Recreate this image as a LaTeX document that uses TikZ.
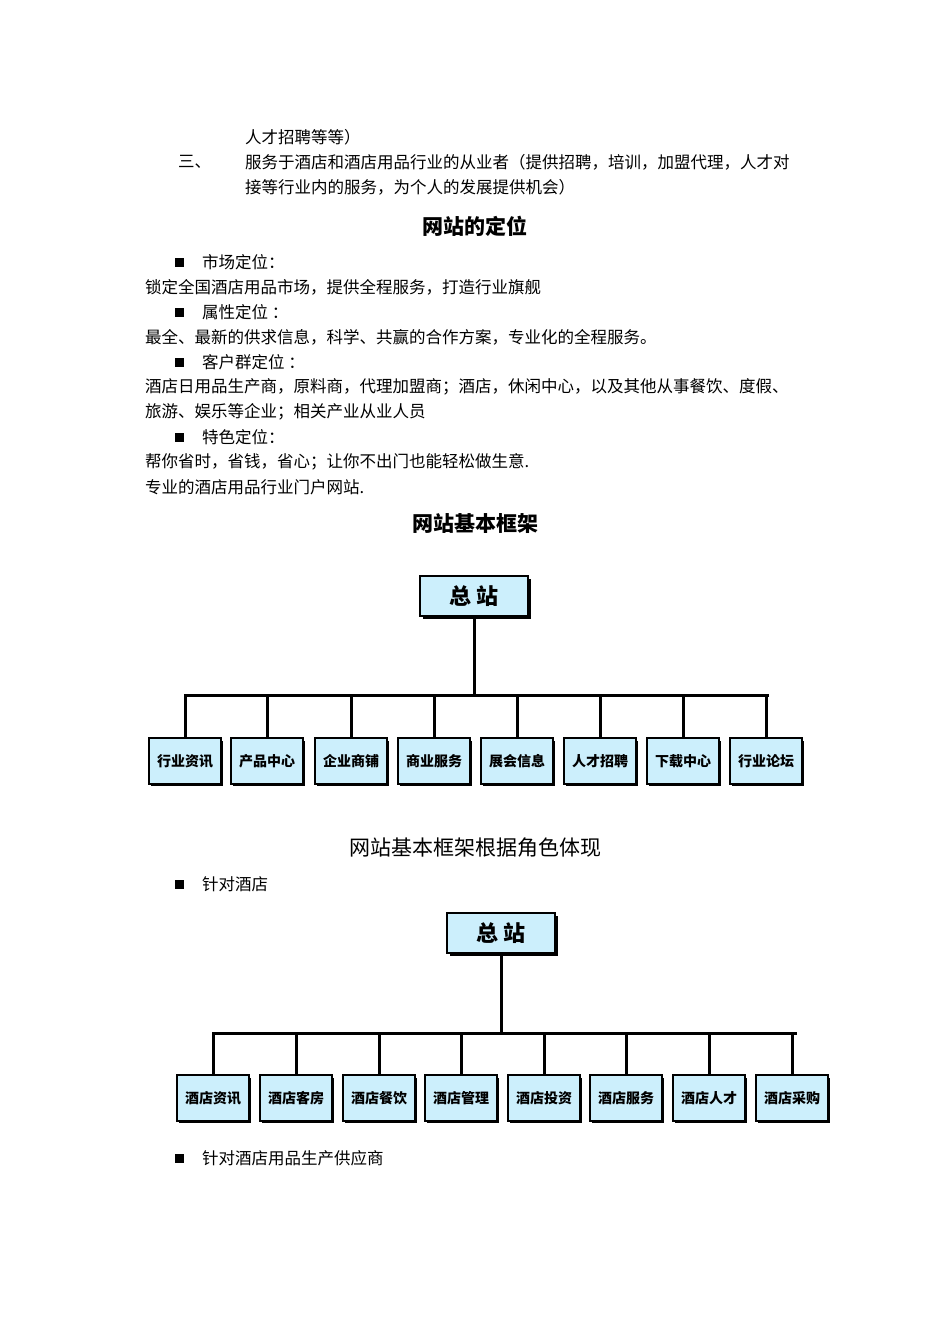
\documentclass[tikz,border=0pt]{standalone}
\usepackage{fontspec}
\setmainfont{Noto Sans CJK SC}
\begin{document}
\begin{tikzpicture}[x=1pt,y=-1pt,
  txt/.style={anchor=west,inner sep=0pt,font=\fontsize{16.5}{18}\selectfont},
  ttl/.style={inner sep=0pt,font=\fontsize{21}{24}\selectfont\bfseries},
  bul/.style={fill=black,minimum size=9pt,inner sep=0pt},
  topbox/.style={draw=black,line width=2pt,fill=cyan!20,minimum width=108pt,minimum height=40pt,font=\fontsize{22}{24}\selectfont\bfseries},
  subbox/.style={draw=black,line width=1.2pt,fill=cyan!20,minimum width=72pt,minimum height=46pt,font=\fontsize{14}{15}\selectfont\bfseries,inner sep=0pt},
  conn/.style={line width=3pt}]
\useasboundingbox (0,0) rectangle (950,1344);
\fill[white] (0,0) rectangle (950,1344);
\node[txt] (l1) at (245,137) {人才招聘等等）};
\node[txt] (l2a) at (178,162) {三、};
\node[txt] (l2) at (245,162) {服务于酒店和酒店用品行业的从业者（提供招聘，培训，加盟代理，人才对};
\node[txt] (l3) at (245,187) {接等行业内的服务，为个人的发展提供机会）};
\node[ttl] (t1) at (475,226) {网站的定位};
\node[bul] (b1) at (179,262) {}; \node[txt] (s1) at (202,262) {市场定位：};
\node[txt] (p1) at (145,287) {锁定全国酒店用品市场，提供全程服务，打造行业旗舰};
\node[bul] (b2) at (179,312) {}; \node[txt] (s2) at (202,312) {属性定位 ：};
\node[txt] (p2) at (145,337) {最全、最新的供求信息，科学、共赢的合作方案，专业化的全程服务。};
\node[bul] (b3) at (179,362) {}; \node[txt] (s3) at (202,362) {客户群定位 ：};
\node[txt] (p3) at (145,387) {酒店日用品生产商，原料商，代理加盟商；酒店，休闲中心，以及其他从事餐饮、度假、};
\node[txt] (p4) at (145,412) {旅游、娱乐等企业；相关产业从业人员};
\node[bul] (b4) at (179,437) {}; \node[txt] (s4) at (202,437) {特色定位：};
\node[txt] (p5) at (145,462) {帮你省时，省钱，省心；让你不出门也能轻松做生意.};
\node[txt] (p6) at (145,487) {专业的酒店用品行业门户网站.};
\node[ttl] (t2) at (475,524) {网站基本框架};
\node[inner sep=0pt,font=\fontsize{21}{24}\selectfont] (t3) at (475,848) {网站基本框架根据角色体现};
\node[bul] (b5) at (179,884) {}; \node[txt] (s5) at (202,884) {针对酒店};
\node[bul] (b6) at (179,1158) {}; \node[txt] (s6) at (202,1158) {针对酒店用品生产供应商};

% chart 1
\fill (423,579) rectangle (531,619);
\node[topbox] (r1) at (474,596) {总 站};
\coordinate (bus1) at (474,695);
\draw[conn] (r1.south) -- (bus1);
\draw[conn] (184,695) -- (769,695);
\foreach \x/\t [count=\i] in {185/行业资讯,267/产品中心,351/企业商铺,434/商业服务,517/展会信息,600/人才招聘,683/下载中心,766/行业论坛}{
  \fill (\x-34,741) rectangle (\x+38,786);
  \node[subbox] (a\i) at (\x,761) {\t};
  \draw[conn] (a\i.north) -- (\x,695);
}
% chart 2
\fill (450,916) rectangle (558,956);
\node[topbox] (r2) at (501,933) {总 站};
\coordinate (bus2) at (501,1033);
\draw[conn] (r2.south) -- (bus2);
\draw[conn] (212,1033) -- (797,1033);
\foreach \x/\t [count=\i] in {213/酒店资讯,296/酒店客房,379/酒店餐饮,461/酒店管理,544/酒店投资,626/酒店服务,709/酒店人才,792/酒店采购}{
  \fill (\x-34,1078) rectangle (\x+38,1123);
  \node[subbox] (c\i) at (\x,1098) {\t};
  \draw[conn] (c\i.north) -- (\x,1033);
}
\end{tikzpicture}
\end{document}
